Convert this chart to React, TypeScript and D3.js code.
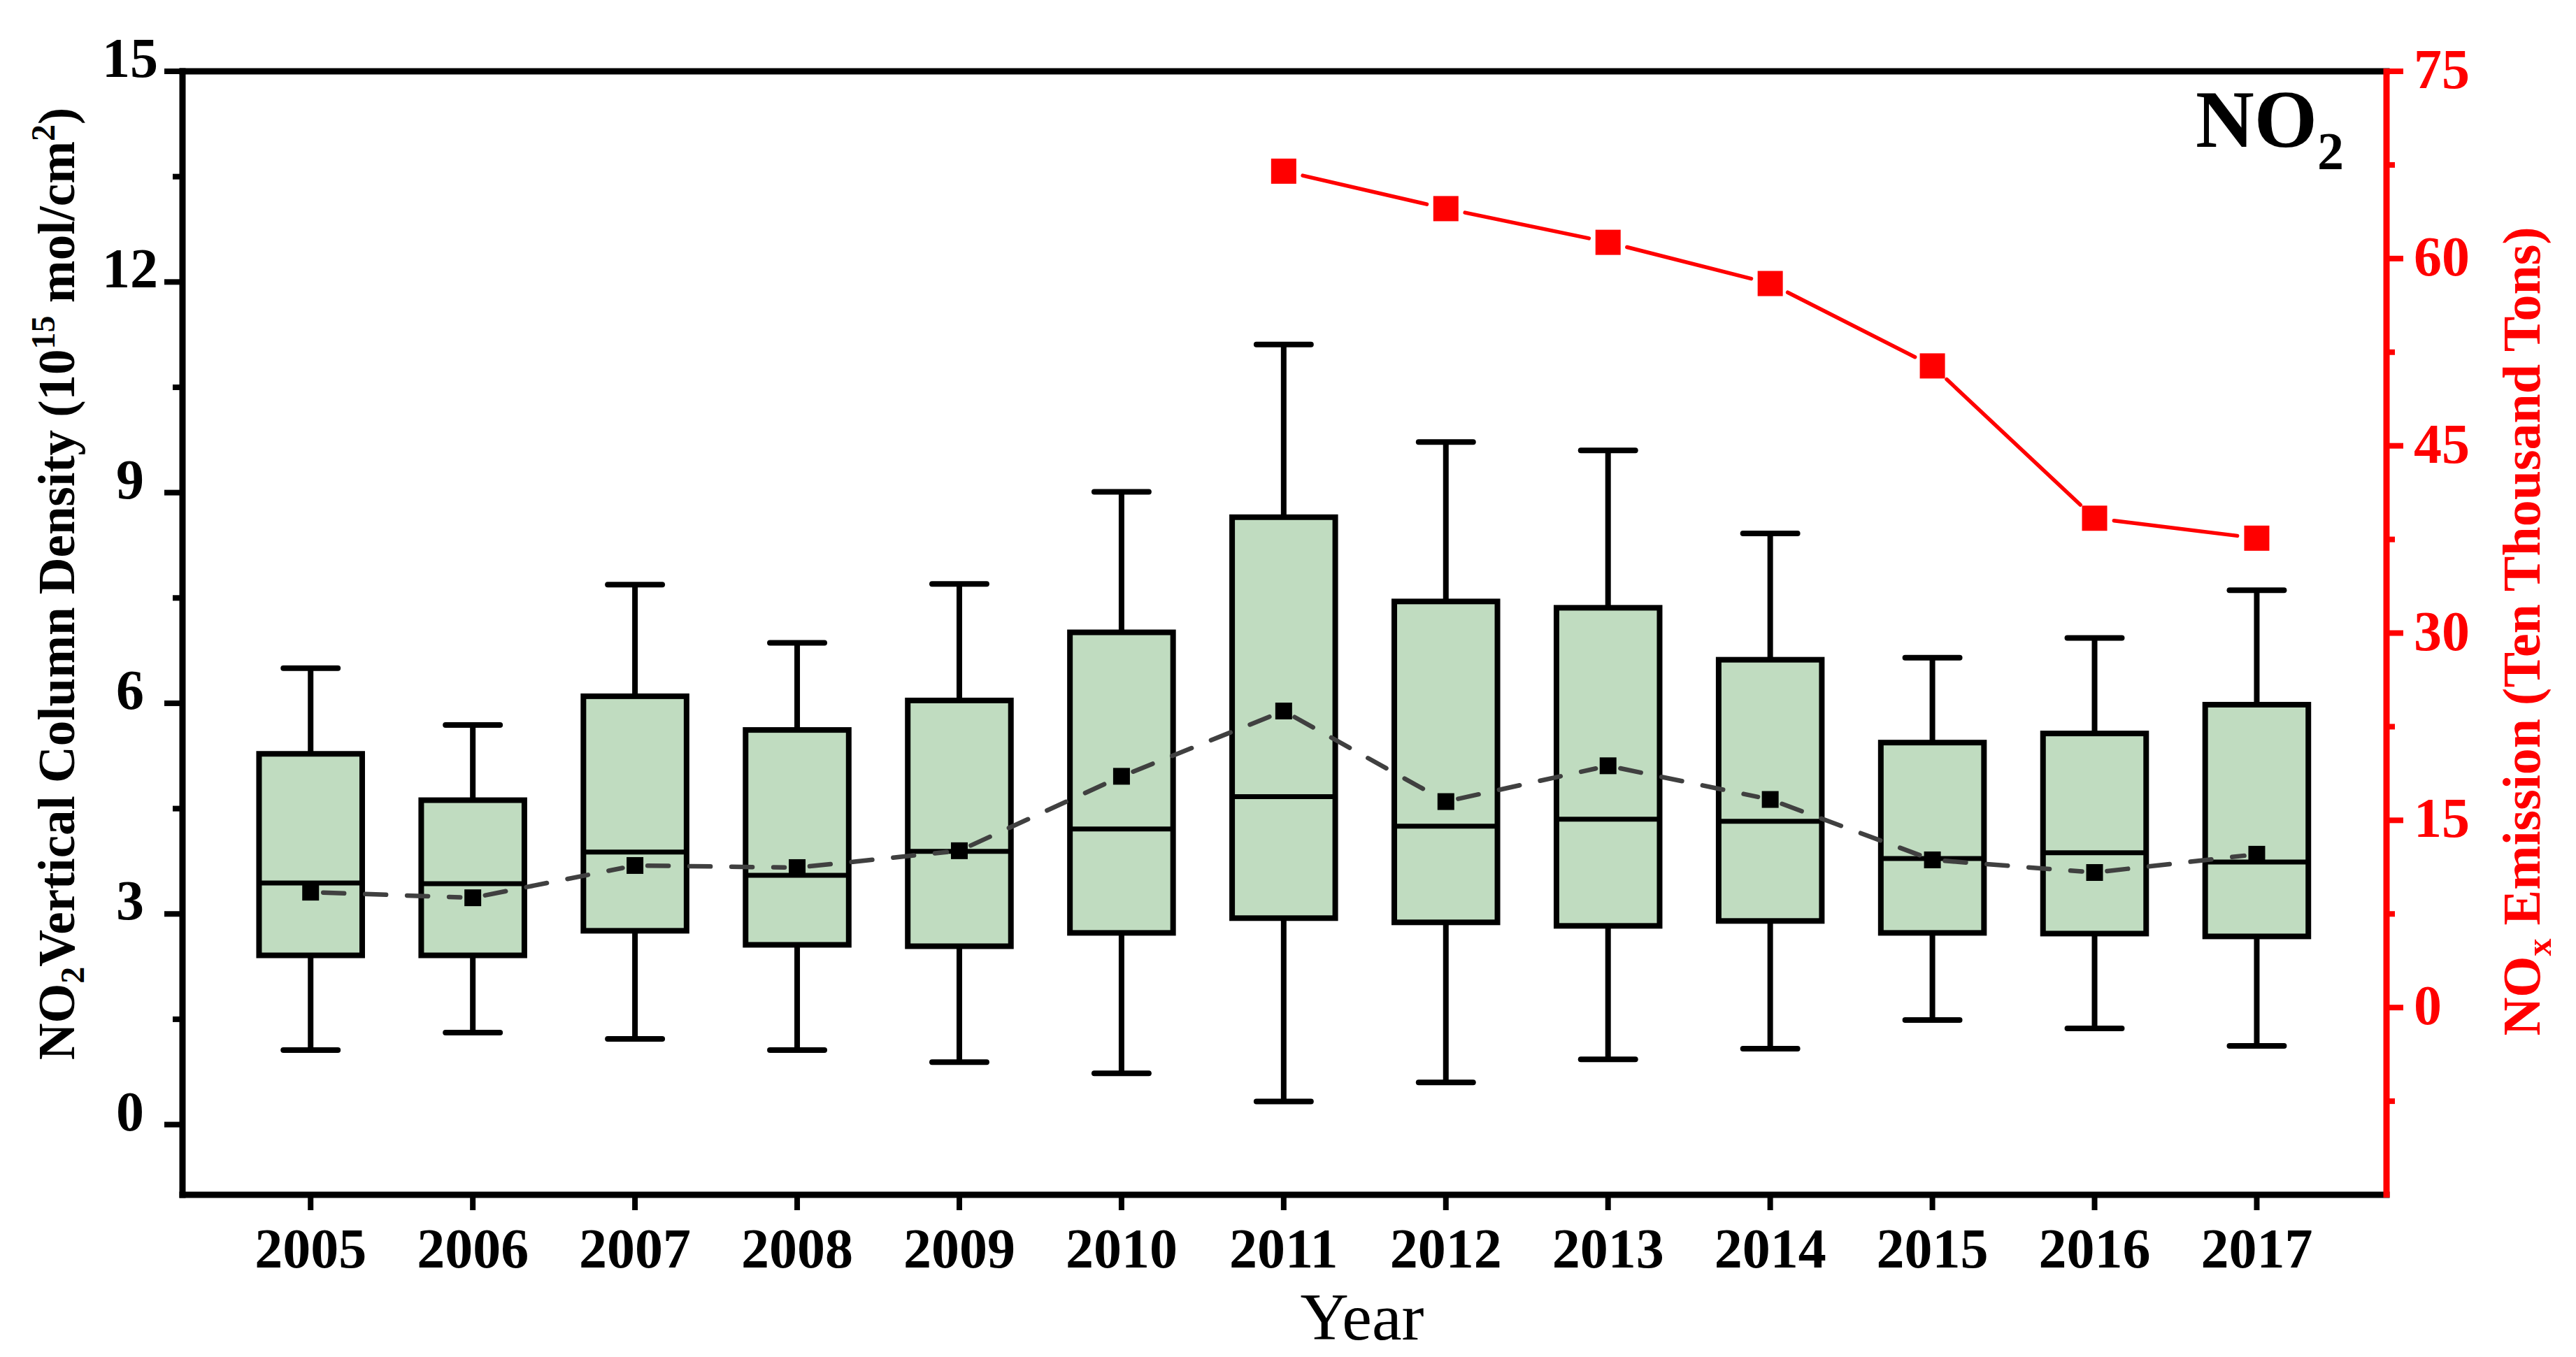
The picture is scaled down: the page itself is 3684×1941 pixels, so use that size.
import React from 'react';
import * as d3 from 'd3';

const years = [2005, 2006, 2007, 2008, 2009, 2010, 2011, 2012, 2013, 2014, 2015, 2016, 2017];
const whiskerLow = [1.06, 1.31, 1.22, 1.06, 0.89, 0.73, 0.33, 0.6, 0.93, 1.08, 1.49, 1.37, 1.12];
const q1 = [2.41, 2.41, 2.76, 2.56, 2.54, 2.73, 2.94, 2.88, 2.83, 2.9, 2.73, 2.72, 2.68];
const medians = [3.44, 3.43, 3.88, 3.55, 3.89, 4.21, 4.67, 4.25, 4.35, 4.32, 3.79, 3.87, 3.74];
const q3 = [5.28, 4.62, 6.1, 5.62, 6.04, 7.01, 8.65, 7.45, 7.36, 6.62, 5.44, 5.57, 5.98];
const whiskerHigh = [6.5, 5.69, 7.69, 6.86, 7.7, 9.01, 11.11, 9.72, 9.6, 8.42, 6.65, 6.93, 7.61];
const means = [3.31, 3.23, 3.69, 3.66, 3.9, 4.96, 5.89, 4.6, 5.11, 4.63, 3.77, 3.59, 3.85];

const emissionYears = [2011, 2012, 2013, 2014, 2015, 2016, 2017];
const emissions = [67.0, 64.0, 61.3, 58.0, 51.4, 39.2, 37.6];

const leftTicks = [0, 3, 6, 9, 12, 15];
const leftMinor = [1.5, 4.5, 7.5, 10.5, 13.5];
const rightTicks = [0, 15, 30, 45, 60, 75];
const rightMinor = [-7.5, 7.5, 22.5, 37.5, 52.5, 67.5];

const FONT = "'Liberation Serif', 'Times New Roman', serif";

function gapSegments(pts: [number, number][], gap: number) {
  const segs: [number, number, number, number][] = [];
  for (let i = 0; i < pts.length - 1; i++) {
    const [x1, y1] = pts[i];
    const [x2, y2] = pts[i + 1];
    const dx = x2 - x1, dy = y2 - y1;
    const len = Math.hypot(dx, dy);
    const ux = dx / len, uy = dy / len;
    segs.push([x1 + ux * gap, y1 + uy * gap, x2 - ux * gap, y2 - uy * gap]);
  }
  return segs;
}

export default function App() {
  const W = 3684, H = 1941;
  const left = 261, right = 3413, top = 102, bottom = 1709;
  const x = d3.scaleLinear().domain([2004.21, 2017.8]).range([left, right]);
  const y = d3.scaleLinear().domain([-1, 15]).range([bottom, top]);
  const y2 = d3.scaleLinear().domain([-15, 75]).range([bottom, top]);
  const boxHalf = (x(2005.318) - x(2005));
  const capHalf = (x(2005.168) - x(2005));

  const meanPts: [number, number][] = years.map((yr, i) => [x(yr), y(means[i])]);
  const emPts: [number, number][] = emissionYears.map((yr, i) => [x(yr), y2(emissions[i])]);
  const meanSegs = gapSegments(meanPts, 18);
  const emSegs = gapSegments(emPts, 28);

  const leftTitleY = 835;
  const rightTitleY = 903;

  return (
    <svg width={W} height={H} viewBox={`0 0 ${W} ${H}`}
      style={{ position: 'absolute', left: 0, top: 0, background: '#fff' }}
      fontFamily={FONT}>
      <rect x={0} y={0} width={W} height={H} fill="#fff" />

      {/* boxes */}
      {years.map((yr, i) => {
        const cx = x(yr);
        return (
          <g key={yr}>
            <line x1={cx} x2={cx} y1={y(q3[i])} y2={y(whiskerHigh[i])} stroke="#000" strokeWidth={8} />
            <line x1={cx} x2={cx} y1={y(q1[i])} y2={y(whiskerLow[i])} stroke="#000" strokeWidth={8} />
            <line x1={cx - capHalf} x2={cx + capHalf} y1={y(whiskerHigh[i])} y2={y(whiskerHigh[i])} stroke="#000" strokeWidth={8} strokeLinecap="round" />
            <line x1={cx - capHalf} x2={cx + capHalf} y1={y(whiskerLow[i])} y2={y(whiskerLow[i])} stroke="#000" strokeWidth={8} strokeLinecap="round" />
            <rect x={cx - boxHalf} y={y(q3[i])} width={boxHalf * 2} height={y(q1[i]) - y(q3[i])}
              fill="#c0dcc0" stroke="#000" strokeWidth={8} />
            <line x1={cx - boxHalf} x2={cx + boxHalf} y1={y(medians[i])} y2={y(medians[i])} stroke="#000" strokeWidth={7} />
          </g>
        );
      })}

      {/* mean dashed line */}
      {meanSegs.map((s, i) => (
        <line key={'ms' + i} x1={s[0]} y1={s[1]} x2={s[2]} y2={s[3]} stroke="#404040" strokeWidth={6.5}
          strokeDasharray="30,30" strokeLinecap="round" />
      ))}
      {meanPts.map((p, i) => (
        <rect key={'mp' + i} x={p[0] - 12} y={p[1] - 12} width={24} height={24} fill="#000" />
      ))}

      {/* emission line */}
      {emSegs.map((s, i) => (
        <line key={'es' + i} x1={s[0]} y1={s[1]} x2={s[2]} y2={s[3]} stroke="#ff0000" strokeWidth={5.5} strokeLinecap="round" />
      ))}
      {emPts.map((p, i) => (
        <rect key={'ep' + i} x={p[0] - 18} y={p[1] - 18} width={36} height={36} fill="#ff0000" />
      ))}

      {/* frame */}
      <line x1={left} x2={right} y1={top} y2={top} stroke="#000" strokeWidth={9} strokeLinecap="square" />
      <line x1={left} x2={right} y1={bottom} y2={bottom} stroke="#000" strokeWidth={9} strokeLinecap="square" />
      <line x1={left} x2={left} y1={top} y2={bottom} stroke="#000" strokeWidth={9} strokeLinecap="square" />
      <line x1={right} x2={right} y1={top - 4} y2={bottom + 4} stroke="#ff0000" strokeWidth={9} />

      {/* left ticks */}
      {leftTicks.map(v => (
        <g key={'lt' + v}>
          <line x1={left - 26} x2={left} y1={y(v)} y2={y(v)} stroke="#000" strokeWidth={8} />
          <text x={186} y={y(v) + 8} textAnchor="middle" fontSize={80} fontWeight="bold" fill="#000">{v}</text>
        </g>
      ))}
      {leftMinor.map(v => (
        <line key={'lm' + v} x1={left - 14} x2={left} y1={y(v)} y2={y(v)} stroke="#000" strokeWidth={8} />
      ))}

      {/* right ticks */}
      {rightTicks.map(v => (
        <g key={'rt' + v}>
          <line x1={right} x2={right + 24} y1={y2(v)} y2={y2(v)} stroke="#ff0000" strokeWidth={8} />
          <text x={3452} y={y2(v) + 24} textAnchor="start" fontSize={80} fontWeight="bold" fill="#ff0000">{v}</text>
        </g>
      ))}
      {rightMinor.map(v => (
        <line key={'rm' + v} x1={right} x2={right + 12} y1={y2(v)} y2={y2(v)} stroke="#ff0000" strokeWidth={8} />
      ))}

      {/* bottom ticks */}
      {years.map(yr => (
        <g key={'bt' + yr}>
          <line x1={x(yr)} x2={x(yr)} y1={bottom} y2={bottom + 22} stroke="#000" strokeWidth={8} />
          <text x={x(yr)} y={1813} textAnchor="middle" fontSize={80} fontWeight="bold" fill="#000">{yr}</text>
        </g>
      ))}

      {/* x title */}
      <text x={1948} y={1916} textAnchor="middle" fontSize={96} fill="#000">Year</text>

      {/* left title */}
      <text transform={`translate(106, ${leftTitleY}) rotate(-90)`} textAnchor="middle" fontSize={73} fontWeight="bold" fill="#000">
        NO<tspan fontSize={48} dy={14}>2</tspan><tspan dy={-14}>Vertical Column Density (10</tspan><tspan fontSize={48} dy={-28}>15</tspan><tspan dy={28}> mol/cm</tspan><tspan fontSize={48} dy={-28}>2</tspan><tspan dy={28}>)</tspan>
      </text>

      {/* right title */}
      <text transform={`translate(3632, ${rightTitleY}) rotate(-90)`} textAnchor="middle" fontSize={76} fontWeight="bold" fill="#ff0000">
        NO<tspan fontSize={50} dy={16}>x</tspan><tspan dy={-16}> Emission (Ten Thousand Tons)</tspan>
      </text>

      {/* annotation */}
      <text x={3140} y={210} fontSize={116} fontWeight="bold" fill="#000">
        NO<tspan fontSize={76} dy={32}>2</tspan>
      </text>
    </svg>
  );
}
